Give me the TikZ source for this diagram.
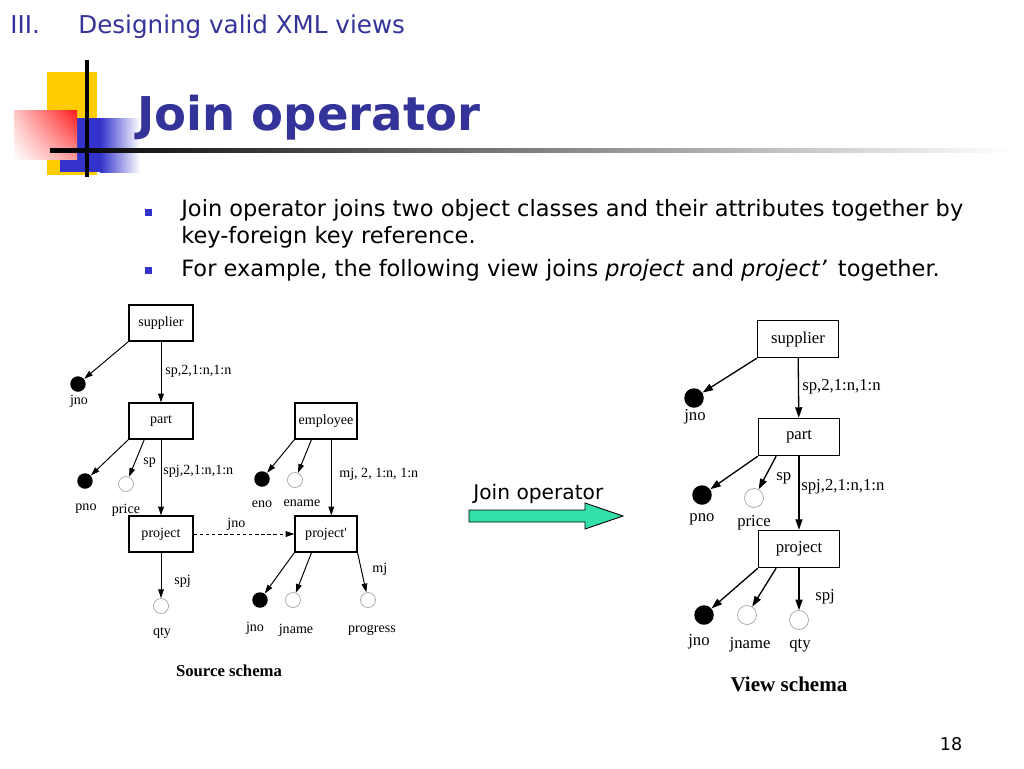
\documentclass[tikz,border=0pt]{standalone}
\usepackage{fontspec}
\setmainfont{Liberation Serif}
\setsansfont{DejaVu Sans}
\usetikzlibrary{arrows.meta,positioning,shadings}
\definecolor{slTitle}{HTML}{333399}
\definecolor{slBlue}{HTML}{3333CC}
\definecolor{slYellow}{HTML}{FFCC00}
\definecolor{slRed}{HTML}{FF1A1A}
\definecolor{slTeal}{HTML}{33E0AA}
\definecolor{slRing}{HTML}{9A9A9A}
\newcommand{\srcfont}{\fontsize{8}{9}\selectfont}
\newcommand{\viewfont}{\fontsize{9.5}{11}\selectfont}

\begin{document}
\begin{tikzpicture}[x=0.02cm,y=-0.02cm,
      cls/.style={draw,line width=0.6pt,minimum width=1.28cm,minimum height=0.72cm,inner sep=0pt,font=\srcfont},
      key/.style={circle,fill=black,minimum size=0.31cm,inner sep=0pt},
      att/.style={circle,draw=slRing,line width=0.35pt,minimum size=0.3cm,inner sep=0pt},
      lbl/.style={anchor=base,inner sep=0pt,font=\srcfont},
      elbl/.style={lbl,anchor=base west},
      ed/.style={-{Triangle[length=5pt,width=3.2pt]},line width=0.55pt},
      vcls/.style={cls,minimum width=1.62cm,minimum height=0.74cm,line width=0.8pt,font=\viewfont},
      vkey/.style={key,minimum size=0.39cm},
      vatt/.style={att,minimum size=0.38cm},
      vlbl/.style={lbl,font=\viewfont},
      velbl/.style={elbl,font=\viewfont},
      ved/.style={ed,line width=0.75pt,-{Triangle[length=6pt,width=4pt]}},
      txt/.style={anchor=base west,inner sep=0pt,font=\sffamily\fontsize{12.8}{15}\selectfont},
      bul/.style={fill=slBlue,minimum size=0.14cm,inner sep=0pt}]
  \useasboundingbox (0,0) rectangle (1024,768);
  % logo
  \fill[slYellow] (47,72) rectangle (97,175);
  \fill[slBlue] (60,118) rectangle (100,172);
  \shade[left color=slBlue,right color=white] (100,118) rectangle (140,172);
  \shade[upper right=slRed,upper left=slRed!25,lower right=slRed!45,lower left=white] (14,110) rectangle (77,159);
  \draw[line width=2.2pt] (87,60) -- (87,177);
  \shade[left color=black,right color=white] (50,148.5) rectangle (1010,152);
  % headings
  \node[anchor=base west,inner sep=0pt,text=slTitle,font=\sffamily\fontsize{14}{17}\selectfont] (sec) at (10,33) {III.};
  \node[anchor=base west,inner sep=0pt,text=slTitle,font=\sffamily\fontsize{14}{17}\selectfont] (sectitle) at (78,33) {Designing valid XML views};
  \node[anchor=base west,inner sep=0pt,text=slTitle,font=\sffamily\bfseries\fontsize{26.5}{30}\selectfont] (title) at (137,130) {Join operator};
  \node[bul] (b1) at (148.5,212) {};
  \node[bul] (b2) at (148.5,270) {};
  \node[txt] (l1) at (181,216) {Join operator joins two object classes and their attributes together by};
  \node[txt] (l2) at (181,243) {key-foreign key reference.};
  \node[txt] (l3) at (181,276) {For example, the following view joins \textit{project} and \textit{project’}\, together.};
  % source schema
  \node[cls] (sup) at (161,323) {supplier};
  \node[key] (sjno) at (78,384) {};
  \node[lbl] (sjnot) at (79,404) {jno};
  \node[cls] (part) at (161,421) {part};
  \node[key] (pno) at (85,481) {};
  \node[lbl] (pnot) at (86,510) {pno};
  \node[att] (price) at (126,484) {};
  \node[lbl] (pricet) at (126,513) {price};
  \node[cls] (proj) at (161,534) {project};
  \node[att] (qty) at (161,606) {};
  \node[lbl] (qtyt) at (162,635) {qty};
  \node[cls,minimum width=1.24cm] (emp) at (326,421) {employee};
  \node[key] (eno) at (262,479) {};
  \node[lbl] (enot) at (262,507) {eno};
  \node[att] (ename) at (295,480) {};
  \node[lbl] (enamet) at (302,506) {ename};
  \node[cls,minimum width=1.24cm] (projp) at (326,534) {project\textquotesingle};
  \node[key] (pjno) at (260,600) {};
  \node[lbl] (pjnot) at (255,631) {jno};
  \node[att] (jname) at (293,600) {};
  \node[lbl] (jnamet) at (296,633) {jname};
  \node[att] (prog) at (368,600) {};
  \node[lbl] (progt) at (372,632) {progress};
  \node[lbl,font=\bfseries\fontsize{9.5}{11}\selectfont] (srccap) at (229,676) {Source schema};
  \draw[ed] (sup.south west) -- (sjno);
  \draw[ed] (sup) -- (part);
  \node[elbl] (e1) at (165,374) {sp,2,1:n,1:n};
  \draw[ed] (part.south west) -- (pno);
  \draw[ed] (part.-132) -- (price);
  \node[elbl] (e2) at (143,464) {sp};
  \draw[ed] (part) -- (proj);
  \node[elbl] (e3) at (163,474) {spj,2,1:n,1:n};
  \draw[ed] (proj) -- (qty);
  \node[elbl] (e4) at (174,584) {spj};
  \draw[ed,dash pattern=on 2pt off 1.5pt] (proj) -- (projp);
  \node[elbl] (e5) at (227,527) {jno};
  \draw[ed] (emp.south west) -- (eno);
  \draw[ed] (emp.-128) -- (ename);
  \draw[ed] ([xshift=3pt]emp.south) -- ([xshift=3pt]projp.north);
  \node[elbl] (e6) at (339,477) {mj, 2, 1:n, 1:n};
  \draw[ed] (projp.south west) -- (pjno);
  \draw[ed] (projp.-128) -- (jname);
  \draw[ed] (projp.south east) -- (prog);
  \node[elbl] (e7) at (372,572) {mj};
  % join arrow
  \draw[fill=slTeal,line width=0.5pt] (469,510) -- (585,510) -- (585,503) -- (623,516) -- (585,529) -- (585,522) -- (469,522) -- cycle;
  \node[anchor=base west,inner sep=0pt,font=\sffamily\fontsize{11.5}{14}\selectfont] (jop) at (473,499) {Join operator};
  % view schema
  \node[vcls] (vsup) at (798,339) {supplier};
  \node[vkey] (vjno) at (694,398) {};
  \node[vlbl] (vjnot) at (695,420) {jno};
  \node[vcls] (vpart) at (799,437) {part};
  \node[vkey] (vpno) at (702,495) {};
  \node[vlbl] (vpnot) at (702,521) {pno};
  \node[vatt] (vprice) at (754,498) {};
  \node[vlbl] (vpricet) at (754,526) {price};
  \node[vcls] (vproj) at (799,549) {project};
  \node[vkey] (vpjno) at (704,615) {};
  \node[vlbl] (vpjnot) at (699,645) {jno};
  \node[vatt] (vjname) at (747,615) {};
  \node[vlbl] (vjnamet) at (750,648) {jname};
  \node[vatt] (vqty) at (799,620) {};
  \node[vlbl] (vqtyt) at (800,648) {qty};
  \node[lbl,font=\bfseries\fontsize{12}{14}\selectfont] (viewcap) at (789,691) {View schema};
  \draw[ved] (vsup.south west) -- (vjno);
  \draw[ved] (vsup) -- (vpart);
  \node[velbl] (v1) at (802,390) {sp,2,1:n,1:n};
  \draw[ved] (vpart.south west) -- (vpno);
  \draw[ved] (vpart.-140) -- (vprice);
  \node[velbl] (v2) at (776,480) {sp};
  \draw[ved] (vpart) -- (vproj);
  \node[velbl] (v3) at (801,490) {spj,2,1:n,1:n};
  \draw[ved] (vproj.south west) -- (vpjno);
  \draw[ved] (vproj.-140) -- (vjname);
  \draw[ved] (vproj) -- (vqty);
  \node[velbl] (v4) at (815,600) {spj};
  % page number
  \node[anchor=base,inner sep=0pt,font=\sffamily\fontsize{10}{12}\selectfont] (pg) at (951,750) {18};
\end{tikzpicture}
\end{document}
